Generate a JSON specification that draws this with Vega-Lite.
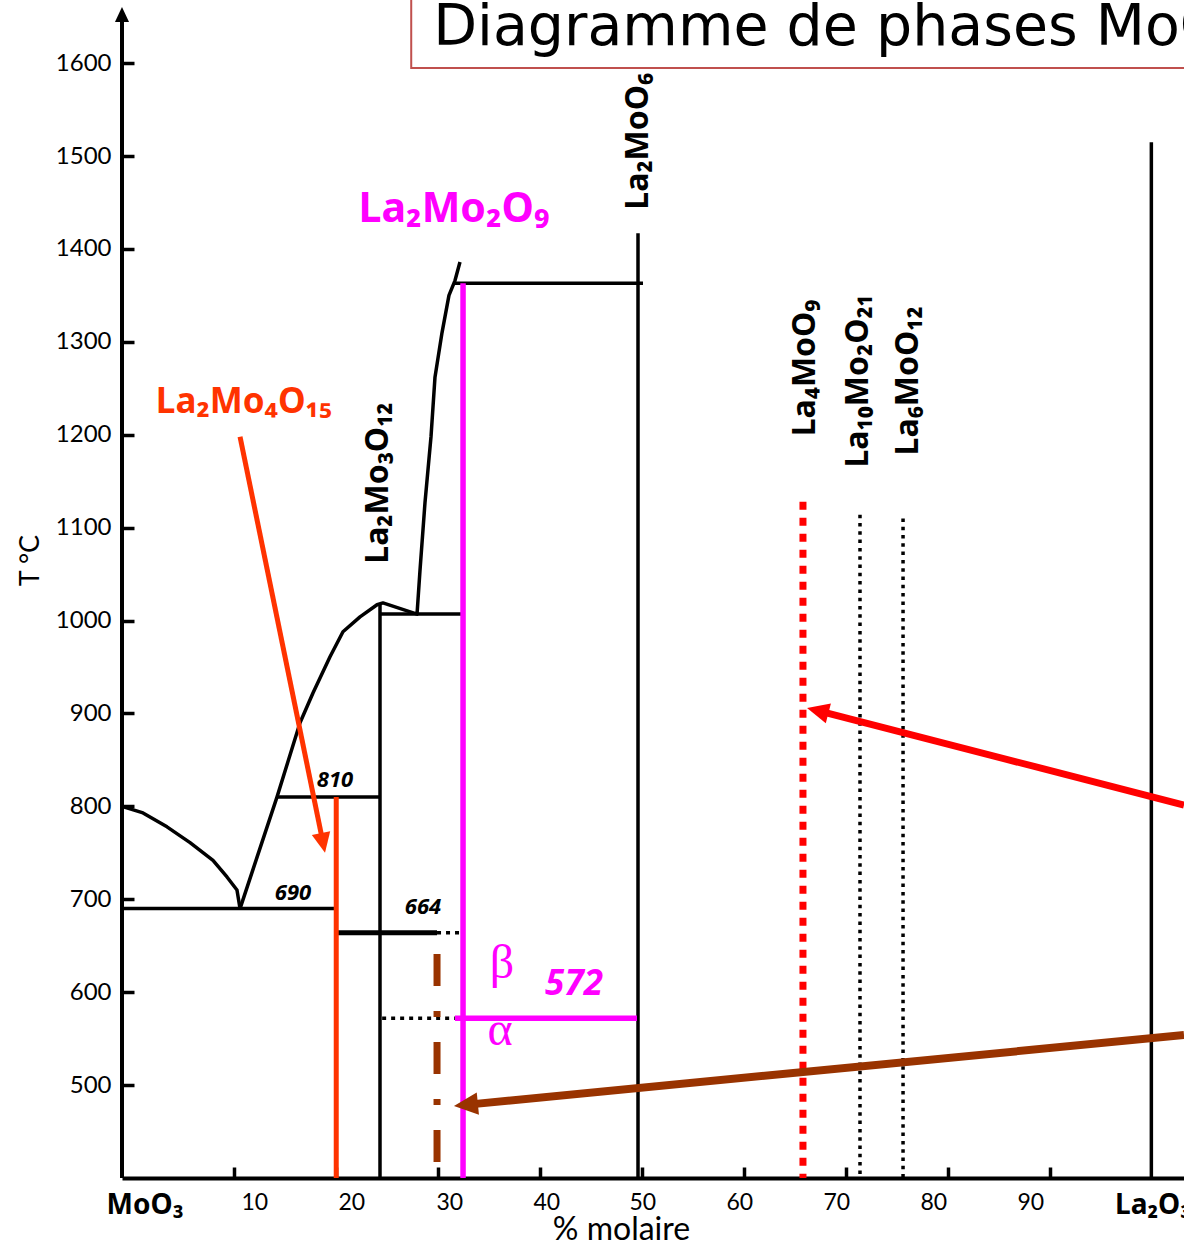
{
  "$schema": "https://vega.github.io/schema/vega-lite/v6.json",
  "width": 1062,
  "height": 1178,
  "autosize": {"type": "none"},
  "padding": {"left": 122, "top": 0, "right": 0, "bottom": 65},
  "background": "white",
  "config": {"view": {"stroke": null}},
  "datasets": {
    "lines": [
      {"seg": "liq_MoO3", "k": 0, "v": -1, "T": 800},
      {"seg": "liq_MoO3", "k": 1, "v": 1.06, "T": 793},
      {"seg": "liq_MoO3", "k": 2, "v": 3.41, "T": 778},
      {"seg": "liq_MoO3", "k": 3, "v": 5.67, "T": 761},
      {"seg": "liq_MoO3", "k": 4, "v": 7.92, "T": 742},
      {"seg": "liq_MoO3", "k": 5, "v": 9.29, "T": 724},
      {"seg": "liq_MoO3", "k": 6, "v": 10.27, "T": 710},
      {"seg": "liq_MoO3", "k": 7, "v": 10.57, "T": 690},
      {"seg": "liq_La2Mo2O9", "k": 0, "v": 10.57, "T": 690},
      {"seg": "liq_La2Mo2O9", "k": 1, "v": 14.19, "T": 810},
      {"seg": "liq_La2Mo2O9", "k": 2, "v": 16.45, "T": 890},
      {"seg": "liq_La2Mo2O9", "k": 3, "v": 17.72, "T": 922},
      {"seg": "liq_La2Mo2O9", "k": 4, "v": 19.39, "T": 961},
      {"seg": "liq_La2Mo2O9", "k": 5, "v": 20.66, "T": 988},
      {"seg": "liq_La2Mo2O9", "k": 6, "v": 22.33, "T": 1004},
      {"seg": "liq_La2Mo2O9", "k": 7, "v": 24.0, "T": 1017},
      {"seg": "liq_La2Mo2O9", "k": 8, "v": 24.58, "T": 1019},
      {"seg": "liq_La2Mo2O9", "k": 9, "v": 27.92, "T": 1007},
      {"seg": "liq_La2Mo2O9", "k": 10, "v": 28.21, "T": 1054},
      {"seg": "liq_La2Mo2O9", "k": 11, "v": 28.7, "T": 1127},
      {"seg": "liq_La2Mo2O9", "k": 12, "v": 29.29, "T": 1198},
      {"seg": "liq_La2Mo2O9", "k": 13, "v": 29.68, "T": 1262},
      {"seg": "liq_La2Mo2O9", "k": 14, "v": 30.37, "T": 1310},
      {"seg": "liq_La2Mo2O9", "k": 15, "v": 31.05, "T": 1350},
      {"seg": "liq_La2Mo2O9", "k": 16, "v": 31.64, "T": 1366},
      {"seg": "liq_La2Mo2O9", "k": 17, "v": 32.13, "T": 1386},
      {"seg": "eut_690", "k": 0, "v": -1, "T": 690},
      {"seg": "eut_690", "k": 1, "v": 20, "T": 690},
      {"seg": "per_810", "k": 0, "v": 14.19, "T": 810},
      {"seg": "per_810", "k": 1, "v": 24.29, "T": 810},
      {"seg": "per_1007", "k": 0, "v": 24.29, "T": 1007},
      {"seg": "per_1007", "k": 1, "v": 32.43, "T": 1007},
      {"seg": "per_1363", "k": 0, "v": 31.5, "T": 1363},
      {"seg": "per_1363", "k": 1, "v": 50.07, "T": 1363},
      {"seg": "La2Mo3O12", "k": 0, "v": 24.29, "T": 400},
      {"seg": "La2Mo3O12", "k": 1, "v": 24.29, "T": 1019},
      {"seg": "La2MoO6", "k": 0, "v": 49.58, "T": 400},
      {"seg": "La2MoO6", "k": 1, "v": 49.58, "T": 1417},
      {"seg": "La2O3", "k": 0, "v": 99.9, "T": 400},
      {"seg": "La2O3", "k": 1, "v": 99.9, "T": 1515},
      {"seg": "tr_664", "k": 0, "v": 20, "T": 664},
      {"seg": "tr_664", "k": 1, "v": 29.88, "T": 664},
      {"seg": "tr_664_ext", "k": 0, "v": 29.88, "T": 664},
      {"seg": "tr_664_ext", "k": 1, "v": 32.43, "T": 664},
      {"seg": "tr_572_ext", "k": 0, "v": 24.5, "T": 572},
      {"seg": "tr_572_ext", "k": 1, "v": 31.64, "T": 572},
      {"seg": "tr_572", "k": 0, "v": 31.64, "T": 572},
      {"seg": "tr_572", "k": 1, "v": 49.48, "T": 572},
      {"seg": "La2Mo2O9", "k": 0, "v": 32.43, "T": 400},
      {"seg": "La2Mo2O9", "k": 1, "v": 32.43, "T": 1363},
      {"seg": "La2Mo4O15", "k": 0, "v": 20, "T": 400},
      {"seg": "La2Mo4O15", "k": 1, "v": 20, "T": 810},
      {"seg": "La4MoO9", "k": 0, "v": 65.75, "T": 1128},
      {"seg": "La4MoO9", "k": 1, "v": 65.75, "T": 400},
      {"seg": "La10Mo2O21", "k": 0, "v": 71.34, "T": 1114},
      {"seg": "La10Mo2O21", "k": 1, "v": 71.34, "T": 400},
      {"seg": "La6MoO12", "k": 0, "v": 75.56, "T": 1110},
      {"seg": "La6MoO12", "k": 1, "v": 75.56, "T": 400},
      {"seg": "x30", "k": 0, "v": 29.88, "T": 641},
      {"seg": "x30", "k": 1, "v": 29.88, "T": 414},
      {"seg": "T_axis", "k": 0, "v": -1, "T": 400},
      {"seg": "T_axis", "k": 1, "v": -1, "T": 1646.5}
    ],
    "arrows": [
      {"arrow": "La2Mo4O15", "k": 0, "v": 10.57, "T": 1198},
      {"arrow": "La2Mo4O15", "k": 1, "v": 18.63, "T": 765},
      {"arrow": "La4MoO9", "k": 0, "v": 103.1, "T": 801.5},
      {"arrow": "La4MoO9", "k": 1, "v": 67.48, "T": 902.2},
      {"arrow": "x30", "k": 0, "v": 103.1, "T": 553.9},
      {"arrow": "x30", "k": 1, "v": 32.91, "T": 479.0}
    ],
    "heads": [
      {"arrow": "La2Mo4O15", "v": 18.9, "T": 750},
      {"arrow": "La4MoO9", "v": 66.15, "T": 906},
      {"arrow": "x30", "v": 31.54, "T": 477.5},
      {"arrow": "T_axis", "v": -1, "T": 1660.5}
    ],
    "labels": [
      {"text": "La₂MoO₆", "v": 50.56, "T": 1516},
      {"text": "La₂Mo₃O₁₂", "v": 25.08, "T": 1148},
      {"text": "La₄MoO₉", "v": 66.93, "T": 1272},
      {"text": "La₁₀Mo₂O₂₁", "v": 72.13, "T": 1258},
      {"text": "La₆MoO₁₂", "v": 77.03, "T": 1258},
      {"text": "La₂Mo₂O₉", "v": 31.55, "T": 1429},
      {"text": "La₂Mo₄O₁₅", "v": 10.96, "T": 1223.4},
      {"text": "810", "v": 19.88, "T": 820.9},
      {"text": "690", "v": 15.76, "T": 699.2},
      {"text": "664", "v": 28.5, "T": 684.2},
      {"text": "572", "v": 43.31, "T": 597},
      {"text": "β", "v": 36.25, "T": 615},
      {"text": "α", "v": 36.05, "T": 543.2},
      {"text": "MoO₃", "v": 1.25, "T": 361.2},
      {"text": "La₂O₃", "v": 96.34, "T": 361.2},
      {"text": "Diagramme de phases MoO₃ – La₂O₃", "v": 29.5, "T": 1619.6}
    ],
    "titlebox": [
      {"v1": 27.35, "v2": 110, "T1": 1594.8, "T2": 1700}
    ]
  },
  "encoding": {
    "x": {
      "field": "v",
      "type": "quantitative",
      "scale": {"domain": [-1, 103.1], "nice": false, "zero": false},
      "axis": {
        "values": [10, 20, 30, 40, 50, 60, 70, 80, 90],
        "format": "d",
        "grid": false,
        "domainColor": "black",
        "domainWidth": 4,
        "tickColor": "black",
        "tickWidth": 3.5,
        "tickSize": -11,
        "labelFont": "Lato",
        "labelFontSize": 23,
        "labelColor": "black",
        "labelPadding": 24,
        "labelFlush": false,
        "labelOffset": {
          "condition": [
            {"test": "datum.value == 10", "value": 20},
            {"test": "datum.value == 20", "value": 15},
            {"test": "datum.value == 30", "value": 11},
            {"test": "datum.value == 40", "value": 6},
            {"test": "datum.value == 60", "value": -5},
            {"test": "datum.value == 70", "value": -10},
            {"test": "datum.value == 80", "value": -15},
            {"test": "datum.value == 90", "value": -20}
          ],
          "value": 0
        },
        "title": "% molaire",
        "titleFont": "Lato",
        "titleFontSize": 32,
        "titleFontWeight": "normal",
        "titleColor": "black",
        "titleX": 499,
        "titleY": 61,
        "titleAlign": "center",
        "titleBaseline": "alphabetic"
      }
    },
    "y": {
      "field": "T",
      "type": "quantitative",
      "scale": {"domain": [400, 1668], "nice": false, "zero": false},
      "axis": {
        "values": [500, 600, 700, 800, 900, 1000, 1100, 1200, 1300, 1400, 1500, 1600],
        "format": "d",
        "grid": false,
        "domain": false,
        "tickColor": "black",
        "tickWidth": 3.5,
        "tickSize": -12,
        "labelFont": "Lato",
        "labelFontSize": 24,
        "labelColor": "black",
        "labelPadding": 23,
        "labelFlush": false,
        "title": "T °C",
        "titleFont": "Lato",
        "titleFontSize": 27,
        "titleFontWeight": "normal",
        "titleColor": "black",
        "titleX": -92,
        "titleY": 560,
        "titleAlign": "center",
        "titleBaseline": "middle"
      }
    }
  },
  "layer": [
    {
      "data": {"name": "lines"},
      "transform": [{"filter": {"field": "seg", "oneOf": ["liq_MoO3", "liq_La2Mo2O9", "eut_690", "per_810", "per_1007", "per_1363", "La2Mo3O12", "La2MoO6", "La2O3"]}}],
      "mark": {"type": "line", "color": "black", "strokeWidth": 3.5, "strokeJoin": "round"},
      "encoding": {"detail": {"field": "seg"}, "order": {"field": "k"}}
    },
    {
      "data": {"name": "lines"},
      "transform": [{"filter": {"field": "seg", "equal": "T_axis"}}],
      "mark": {"type": "line", "color": "black", "strokeWidth": 4},
      "encoding": {"order": {"field": "k"}}
    },
    {
      "data": {"name": "lines"},
      "transform": [{"filter": {"field": "seg", "equal": "tr_664"}}],
      "mark": {"type": "line", "color": "black", "strokeWidth": 5},
      "encoding": {"order": {"field": "k"}}
    },
    {
      "data": {"name": "lines"},
      "transform": [{"filter": {"field": "seg", "oneOf": ["tr_664_ext", "tr_572_ext"]}}],
      "mark": {"type": "line", "color": "black", "strokeWidth": 3.5, "strokeDash": [4, 5]},
      "encoding": {"detail": {"field": "seg"}, "order": {"field": "k"}}
    },
    {
      "data": {"name": "lines"},
      "transform": [{"filter": {"field": "seg", "oneOf": ["La10Mo2O21", "La6MoO12"]}}],
      "mark": {"type": "line", "color": "black", "strokeWidth": 3.5, "strokeDash": [3.5, 4.8]},
      "encoding": {"detail": {"field": "seg"}, "order": {"field": "k"}}
    },
    {
      "data": {"name": "lines"},
      "transform": [{"filter": {"field": "seg", "equal": "La4MoO9"}}],
      "mark": {"type": "line", "color": "#FF0000", "strokeWidth": 7, "strokeDash": [8, 8]},
      "encoding": {"order": {"field": "k"}}
    },
    {
      "data": {"name": "lines"},
      "transform": [{"filter": {"field": "seg", "equal": "x30"}}],
      "mark": {"type": "line", "color": "#993300", "strokeWidth": 7, "strokeDash": [32, 25, 6, 25]},
      "encoding": {"order": {"field": "k"}}
    },
    {
      "data": {"name": "lines"},
      "transform": [{"filter": {"field": "seg", "equal": "La2Mo4O15"}}],
      "mark": {"type": "line", "color": "#FF3300", "strokeWidth": 5},
      "encoding": {"order": {"field": "k"}}
    },
    {
      "data": {"name": "lines"},
      "transform": [{"filter": {"field": "seg", "oneOf": ["La2Mo2O9", "tr_572"]}}],
      "mark": {"type": "line", "color": "#FF00FF", "strokeWidth": 5.5},
      "encoding": {"detail": {"field": "seg"}, "order": {"field": "k"}}
    },
    {
      "data": {"name": "arrows"},
      "transform": [{"filter": {"field": "arrow", "equal": "La2Mo4O15"}}],
      "mark": {"type": "line", "color": "#FF3300", "strokeWidth": 5, "clip": true},
      "encoding": {"order": {"field": "k"}}
    },
    {
      "data": {"name": "arrows"},
      "transform": [{"filter": {"field": "arrow", "equal": "La4MoO9"}}],
      "mark": {"type": "line", "color": "#FF0000", "strokeWidth": 7, "clip": true},
      "encoding": {"order": {"field": "k"}}
    },
    {
      "data": {"name": "arrows"},
      "transform": [{"filter": {"field": "arrow", "equal": "x30"}}],
      "mark": {"type": "line", "color": "#993300", "strokeWidth": 8, "clip": true},
      "encoding": {"order": {"field": "k"}}
    },
    {
      "data": {"name": "heads"},
      "transform": [{"filter": {"field": "arrow", "equal": "La2Mo4O15"}}],
      "mark": {"type": "point", "shape": "M0,0L-0.75,1.6L0.75,1.6Z", "filled": true, "color": "#FF3300", "opacity": 1, "size": 625, "angle": 168.45, "strokeWidth": 0}
    },
    {
      "data": {"name": "heads"},
      "transform": [{"filter": {"field": "arrow", "equal": "La4MoO9"}}],
      "mark": {"type": "point", "shape": "M0,0L-0.75,1.6L0.75,1.6Z", "filled": true, "color": "#FF0000", "opacity": 1, "size": 756, "angle": 284.4, "strokeWidth": 0}
    },
    {
      "data": {"name": "heads"},
      "transform": [{"filter": {"field": "arrow", "equal": "x30"}}],
      "mark": {"type": "point", "shape": "M0,0L-0.75,1.6L0.75,1.6Z", "filled": true, "color": "#993300", "opacity": 1, "size": 900, "angle": 264.4, "strokeWidth": 0}
    },
    {
      "data": {"name": "heads"},
      "transform": [{"filter": {"field": "arrow", "equal": "T_axis"}}],
      "mark": {"type": "point", "shape": "M0,0L-0.75,1.6L0.75,1.6Z", "filled": true, "color": "black", "opacity": 1, "size": 353, "angle": 0, "strokeWidth": 0}
    },
    {
      "data": {"name": "labels"},
      "transform": [{"filter": {"field": "text", "oneOf": ["La₂MoO₆", "La₂Mo₃O₁₂", "La₄MoO₉", "La₁₀Mo₂O₂₁", "La₆MoO₁₂"]}}],
      "mark": {"type": "text", "font": "Noto Sans", "fontWeight": "bold", "fontSize": 32, "color": "black", "angle": 270, "align": "center", "baseline": "alphabetic"},
      "encoding": {"text": {"field": "text"}}
    },
    {
      "data": {"name": "labels"},
      "transform": [{"filter": {"field": "text", "equal": "La₂Mo₂O₉"}}],
      "mark": {"type": "text", "font": "Noto Sans", "fontWeight": "bold", "fontSize": 41, "color": "#FF00FF", "align": "center", "baseline": "alphabetic"},
      "encoding": {"text": {"field": "text"}}
    },
    {
      "data": {"name": "labels"},
      "transform": [{"filter": {"field": "text", "equal": "La₂Mo₄O₁₅"}}],
      "mark": {"type": "text", "font": "Noto Sans", "fontWeight": "bold", "fontSize": 35, "color": "#FF3300", "align": "center", "baseline": "alphabetic"},
      "encoding": {"text": {"field": "text"}}
    },
    {
      "data": {"name": "labels"},
      "transform": [{"filter": {"field": "text", "oneOf": ["810", "690", "664"]}}],
      "mark": {"type": "text", "font": "Noto Sans", "fontWeight": "bold", "fontStyle": "italic", "fontSize": 22, "color": "black", "align": "center", "baseline": "alphabetic"},
      "encoding": {"text": {"field": "text"}}
    },
    {
      "data": {"name": "labels"},
      "transform": [{"filter": {"field": "text", "equal": "572"}}],
      "mark": {"type": "text", "font": "Noto Sans", "fontWeight": "bold", "fontStyle": "italic", "fontSize": 35, "color": "#FF00FF", "align": "center", "baseline": "alphabetic"},
      "encoding": {"text": {"field": "text"}}
    },
    {
      "data": {"name": "labels"},
      "transform": [{"filter": {"field": "text", "oneOf": ["β", "α"]}}],
      "mark": {"type": "text", "font": "Liberation Serif", "fontSize": 48, "color": "#FF00FF", "align": "center", "baseline": "alphabetic"},
      "encoding": {"text": {"field": "text"}}
    },
    {
      "data": {"name": "labels"},
      "transform": [{"filter": {"field": "text", "equal": "MoO₃"}}],
      "mark": {"type": "text", "font": "Noto Sans", "fontWeight": "bold", "fontSize": 28, "color": "black", "align": "center", "baseline": "alphabetic"},
      "encoding": {"text": {"field": "text"}}
    },
    {
      "data": {"name": "labels"},
      "transform": [{"filter": {"field": "text", "equal": "La₂O₃"}}],
      "mark": {"type": "text", "font": "Noto Sans", "fontWeight": "bold", "fontSize": 28, "color": "black", "align": "left", "baseline": "alphabetic"},
      "encoding": {"text": {"field": "text"}}
    },
    {
      "data": {"name": "titlebox"},
      "mark": {"type": "rect", "fill": "white", "stroke": "#C0504D", "strokeWidth": 2, "clip": true},
      "encoding": {
        "x": {"field": "v1", "type": "quantitative"},
        "x2": {"field": "v2"},
        "y": {"field": "T1", "type": "quantitative"},
        "y2": {"field": "T2"}
      }
    },
    {
      "data": {"name": "labels"},
      "transform": [{"filter": {"field": "text", "equal": "Diagramme de phases MoO₃ – La₂O₃"}}],
      "mark": {"type": "text", "font": "DejaVu Sans", "fontSize": 57, "color": "black", "align": "left", "baseline": "alphabetic", "clip": true},
      "encoding": {"text": {"field": "text"}}
    }
  ]
}
